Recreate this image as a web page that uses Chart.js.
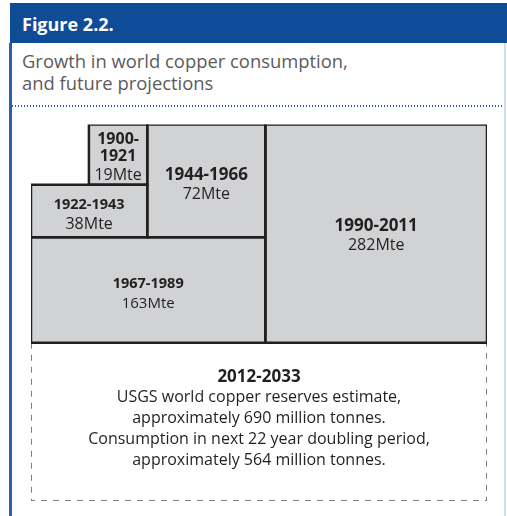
<!DOCTYPE html>
<html>
<head>
<meta charset="utf-8">
<script src="https://cdn.jsdelivr.net/npm/chart.js@4.4.0/dist/chart.umd.min.js"></script>
<style>
  body { margin: 0; background: #fff; font-family: "Open Sans", sans-serif; }
  #page { position: relative; width: 507px; height: 516px; overflow: hidden; }
  .header { position: absolute; left: 10px; top: 3px; width: 497px; height: 40px; background: #0f4c97; }
  .header span { position: absolute; left: 12px; top: 10px; color: #fff; font-weight: 700; font-size: 18px; line-height: 22px; }
  .leftbar { position: absolute; left: 9px; top: 43px; width: 3px; height: 473px; background: #2a60ab; }
  .rightbar { position: absolute; left: 504px; top: 43px; width: 2px; height: 473px; background: #d0ddef; }
  .subtitle { position: absolute; left: 22px; top: 50px; font-size: 18.4px; line-height: 22px; color: #5b5b5b; }
  .dots { position: absolute; left: 12px; top: 105px; width: 492px; height: 2px;
          background-image: linear-gradient(to right, #2a5fa8 50%, transparent 50%); background-size: 3px 2px; }
  canvas { position: absolute; left: 0; top: 0; }
</style>
</head>
<body>
<div id="page">
  <div class="header"><span>Figure 2.2.</span></div>
  <div class="leftbar"></div>
  <div class="rightbar"></div>
  <div class="subtitle">Growth in world copper consumption,<br>and future projections</div>
  <div class="dots"></div>
  <canvas id="copperChart" width="507" height="516"></canvas>
</div>
<script>
// 22-year periods and consumption (million tonnes); last period is the projection
const periods = ['1900-1921', '1922-1943', '1944-1966', '1967-1989', '1990-2011', '2012-2033'];
const consumptionMte = [19, 38, 72, 163, 282, null];
const reservesMt = 690;
const projectedMt = 564;

// cell extents in layout units (0-100 across, 0-100 down)
const cellX0 = [12.7, 0, 25.5, 0, 51.4, 0];
const cellX1 = [25.5, 25.5, 51.4, 51.4, 100, 100];
const cellY0 = [0, 16, 0, 30, 0, 58];
const cellY1 = [16, 30, 30, 58, 58, 100];

const noteLines = [
  'USGS world copper reserves estimate,',
  'approximately ' + reservesMt + ' million tonnes.',
  'Consumption in next 22 year doubling period,',
  'approximately ' + projectedMt + ' million tonnes.'
];

const ink = '#231f20';
const datasets = [];
periods.forEach((p, i) => {
  const x0 = cellX0[i], x1 = cellX1[i], y0 = cellY0[i], y1 = cellY1[i];
  const threeSides = [{x: x0, y: y0}, {x: x0, y: y1}, {x: x1, y: y1}, {x: x1, y: y0}];
  if (consumptionMte[i] !== null) {
    // grey cell
    datasets.push({
      label: p, data: threeSides, fill: {value: y0},
      backgroundColor: '#d1d2d4', borderWidth: 0, pointRadius: 0
    });
    // outline
    datasets.push({
      label: p + ' outline', data: threeSides.concat([{x: x0, y: y0}]), fill: false,
      borderColor: ink, borderWidth: 2.5, borderCapStyle: 'square', borderJoinStyle: 'miter',
      pointRadius: 0
    });
  } else {
    // projected period: dashed box, no fill
    datasets.push({
      label: p, data: threeSides, fill: false, order: 10,
      borderColor: '#555', borderWidth: 1.5, borderDash: [6, 6], pointRadius: 0
    });
  }
});

// period / value labels centred in each cell
const titleSize = [16, 14.5, 17, 14.5, 17, 17];
const valueSize = [16, 16, 16, 15, 16, 16];
const labelShift = [3, 4, 4, 4, 2, -3];
const cellLabels = {
  id: 'cellLabels',
  afterDatasetsDraw(chart) {
    const {ctx, scales: {x, y}} = chart;
    ctx.save();
    ctx.textAlign = 'center';
    ctx.textBaseline = 'middle';
    ctx.fillStyle = ink;
    periods.forEach((p, i) => {
      const left = x.getPixelForValue(cellX0[i]), right = x.getPixelForValue(cellX1[i]);
      const top = y.getPixelForValue(cellY0[i]), bottom = y.getPixelForValue(cellY1[i]);
      const cx = (left + right) / 2, cy = (top + bottom) / 2 + labelShift[i];
      const bold = 'bold ' + titleSize[i] + 'px "Open Sans"';
      const normal = valueSize[i] + 'px "Open Sans"';
      ctx.font = bold;
      let head = [p];
      if (ctx.measureText(p).width > right - left - 10) {
        const parts = p.split('-');
        head = [parts[0] + '-', parts[1]];
      }
      const lines = [];
      head.forEach((t, k) => lines.push({t, font: bold, step: k === 0 ? 0 : 17}));
      if (consumptionMte[i] !== null) {
        lines.push({t: consumptionMte[i] + 'Mte', font: normal, step: 19.5});
      } else {
        noteLines.forEach(t => lines.push({t, font: normal, step: 21}));
      }
      let pos = 0;
      lines.forEach(l => { pos += l.step; l.off = pos; });
      const start = cy - pos / 2;
      lines.forEach(l => {
        ctx.font = l.font;
        ctx.fillText(l.t, cx, start + l.off);
      });
    });
    ctx.restore();
  }
};

new Chart(document.getElementById('copperChart').getContext('2d'), {
  type: 'line',
  data: {datasets},
  options: {
    responsive: false,
    animation: false,
    events: [],
    layout: {padding: {left: 31, right: 20, top: 124.5, bottom: 15.3}},
    scales: {
      x: {type: 'linear', min: 0, max: 100, display: false},
      y: {type: 'linear', min: 0, max: 100, reverse: true, display: false}
    },
    plugins: {
      legend: {display: false},
      tooltip: {enabled: false},
      filler: {drawTime: 'beforeDatasetsDraw'}
    }
  },
  plugins: [cellLabels]
});
</script>
</body>
</html>
